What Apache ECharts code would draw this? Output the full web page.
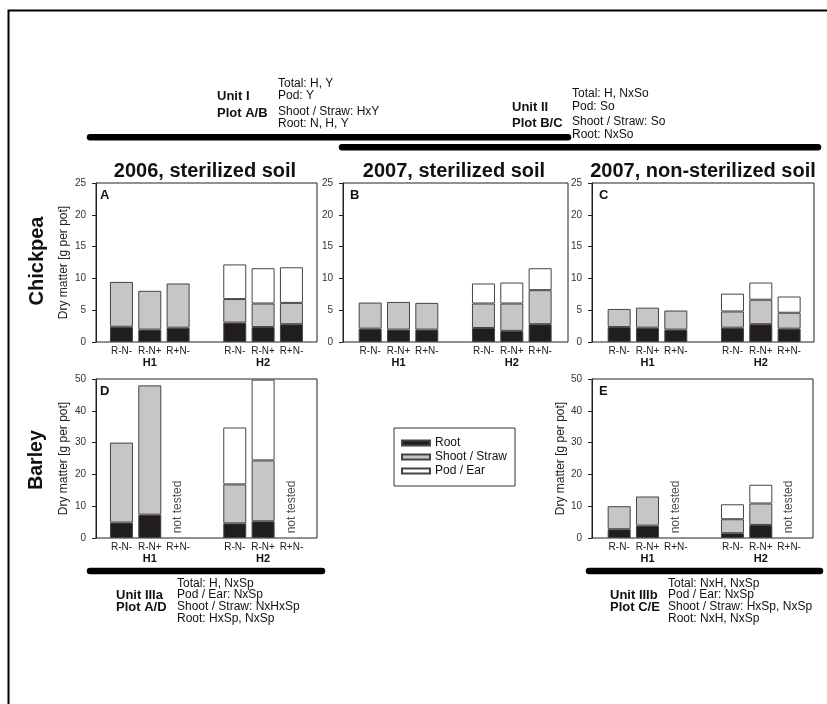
<!DOCTYPE html>
<html>
<head>
<meta charset="utf-8">
<script src="https://cdn.jsdelivr.net/npm/echarts@6/dist/echarts.min.js"></script>
<style>
html, body { margin: 0; padding: 0; background: #fff; }
#chart { width: 827px; height: 704px; }
</style>
</head>
<body>
<div id="chart"></div>
<script>
// x slots: three treatments for H1, an empty slot, three for H2
var treatments = ['R-N-', 'R-N+', 'R+N-', '', 'R-N-', 'R-N+', 'R+N-'];
var groups = ['', 'H1', '', '', '', 'H2', ''];
var seriesNames = ['Root', 'Shoot / Straw', 'Pod / Ear'];
var notTestedSlots = [2, 6];

// segment heights, g per pot (null = no segment / not tested / empty slot)
var rootA  = [2.4, 1.95, 2.25, null, 3.05, 2.35, 2.8];
var shootA = [7.05, 6.1, 6.95, null, 3.7, 3.7, 3.35];
var podA   = [null, null, null, null, 5.45, 5.55, 5.6];

var rootB  = [2.1, 1.95, 1.95, null, 2.2, 1.75, 2.8];
var shootB = [4.1, 4.35, 4.2, null, 3.85, 4.3, 5.35];
var podB   = [null, null, null, null, 3.15, 3.3, 3.45];

var rootC  = [2.35, 2.25, 1.95, null, 2.25, 2.8, 2.1];
var shootC = [2.85, 3.15, 3.0, null, 2.55, 3.85, 2.5];
var podC   = [null, null, null, null, 2.8, 2.7, 2.55];

var rootD  = [4.85, 7.35, null, null, 4.6, 5.25, null];
var shootD = [25.15, 40.65, null, null, 12.25, 19.15, null];
var podD   = [null, null, null, null, 17.9, 25.4, null];

var rootE  = [2.75, 3.9, null, null, 1.5, 4.1, null];
var shootE = [7.25, 9.15, null, null, 4.4, 6.75, null];
var podE   = [null, null, null, null, 4.7, 5.9, null];

var colTitles = ['2006, sterilized soil', '2007, sterilized soil', '2007, non-sterilized soil'];
var rowTitles = ['Chickpea', 'Barley'];
var yName = 'Dry matter [g per pot]';

var unit1 = ['Total: H, Y', 'Pod: Y', 'Shoot / Straw: HxY', 'Root: N, H, Y'];
var unit2 = ['Total: H, NxSo', 'Pod: So', 'Shoot / Straw: So', 'Root: NxSo'];
var unit3a = ['Total: H, NxSp', 'Pod / Ear: NxSp', 'Shoot / Straw: NxHxSp', 'Root: HxSp, NxSp'];
var unit3b = ['Total: NxH, NxSp', 'Pod / Ear: NxSp', 'Shoot / Straw: HxSp, NxSp', 'Root: NxH, NxSp'];

var FONT = 'Liberation Sans, Arial, sans-serif';
var colors = ['#211d1e', '#c6c6c6', '#ffffff'];
var slots = treatments.map(function (t, i) { return 's' + i; });

var panels = [
    { letter: 'A', left: 96,  top: 183, width: 221, inset: 11.3, max: 25, step: 5,  data: [rootA, shootA, podA], yname: 26.5 },
    { letter: 'B', left: 343, top: 183, width: 225, inset: 13,   max: 25, step: 5,  data: [rootB, shootB, podB], yname: 0 },
    { letter: 'C', left: 592, top: 183, width: 222, inset: 13,   max: 25, step: 5,  data: [rootC, shootC, podC], yname: 0 },
    { letter: 'D', left: 96,  top: 379, width: 221, inset: 11.3, max: 50, step: 10, data: [rootD, shootD, podD], yname: 26.5, nt: true },
    { letter: 'E', left: 592, top: 379, width: 221, inset: 13,   max: 50, step: 10, data: [rootE, shootE, podE], yname: 23, nt: true }
];

var grids = [], xAxes = [], yAxes = [], series = [], graphics = [];

panels.forEach(function (p, i) {
    var g = i * 2;
    // frame box
    grids.push({
        left: p.left, top: p.top, width: p.width, height: 159,
        show: true, borderColor: '#222', borderWidth: 1, outerBoundsMode: 'none'
    });
    xAxes.push({ type: 'value', gridIndex: g, show: false });
    yAxes.push({ type: 'value', gridIndex: g, show: false });
    // data area
    grids.push({
        left: p.left + p.inset, top: p.top, width: 198.3, height: 159,
        outerBoundsMode: 'none'
    });
    xAxes.push({
        type: 'category', gridIndex: g + 1, data: slots,
        axisTick: { show: false },
        axisLine: { show: false },
        axisLabel: {
            interval: 0,
            margin: 4,
            formatter: function (v, k) {
                if (!treatments[k]) return '';
                var s = '{a|' + treatments[k] + '}';
                if (groups[k]) s += '\n{b|' + groups[k] + '}';
                return s;
            },
            rich: {
                a: { fontSize: 10, lineHeight: 10, color: '#222', fontFamily: FONT },
                b: { fontSize: 11, lineHeight: 13, fontWeight: 'bold', color: '#111', fontFamily: FONT }
            }
        }
    });
    yAxes.push({
        type: 'value', gridIndex: g + 1, min: 0, max: p.max, interval: p.step,
        offset: p.inset,
        splitLine: { show: false },
        axisLine: { show: true, lineStyle: { color: '#222', width: 1 } },
        axisTick: { show: true, length: 4, lineStyle: { color: '#222' } },
        axisLabel: { fontSize: 10, color: '#333', margin: 10, fontFamily: FONT },
        name: p.yname ? yName : '',
        nameLocation: 'middle',
        nameGap: p.yname,
        nameTextStyle: { fontSize: 12, color: '#222', fontFamily: FONT }
    });
    p.data.forEach(function (vals, k) {
        series.push({
            name: seriesNames[k], type: 'bar', stack: 'panel' + i,
            xAxisIndex: g + 1, yAxisIndex: g + 1, barWidth: 23,
            itemStyle: { color: colors[k], borderColor: '#444', borderWidth: 1 },
            emphasis: { disabled: true },
            data: vals.map(function (v) { return v == null ? '-' : v; })
        });
    });
    if (p.nt) {
        series.push({
            type: 'scatter', xAxisIndex: g + 1, yAxisIndex: g + 1, symbolSize: 0, silent: true,
            label: {
                show: true, formatter: 'not tested', rotate: 90, position: 'inside',
                fontSize: 12, color: '#222', fontFamily: FONT
            },
            data: notTestedSlots.map(function (x) { return [x, p.max * 0.195]; })
        });
    }
    graphics.push(txt(p.left + (p.letter === 'A' || p.letter === 'D' ? 4 : 7), p.top + 12.5, p.letter, 13, 'bold', 'left'));
});

function txt(x, y, s, size, weight, align, rot) {
    return {
        type: 'text', x: x, y: y, rotation: rot || 0, silent: true,
        style: {
            text: s, fontSize: size, fontWeight: weight, fontFamily: FONT,
            fill: '#111', align: align, verticalAlign: 'middle'
        }
    };
}
function bar(x1, y, x2) {
    return {
        type: 'line', silent: true,
        shape: { x1: x1, y1: y, x2: x2, y2: y },
        style: { stroke: '#000', lineWidth: 6.5, lineCap: 'round' }
    };
}
function block(x, ys, lines) {
    lines.forEach(function (s, k) {
        graphics.push(txt(x, ys[k], s, 12, 'normal', 'left'));
    });
}

// column and row titles
graphics.push(txt(205, 171, colTitles[0], 20, 'bold', 'center'));
graphics.push(txt(454, 171, colTitles[1], 20, 'bold', 'center'));
graphics.push(txt(703, 171, colTitles[2], 20, 'bold', 'center'));
graphics.push(txt(37, 261, rowTitles[0], 20, 'bold', 'center', Math.PI / 2));
graphics.push(txt(37, 460, rowTitles[1], 19.5, 'bold', 'center', Math.PI / 2));

// experimental unit annotations
graphics.push(bar(90, 137.3, 568));
graphics.push(bar(342, 147.3, 818));
graphics.push(bar(90, 571, 322));
graphics.push(bar(589, 571, 820));

graphics.push(txt(217, 96.5, 'Unit I', 13, 'bold', 'left'));
graphics.push(txt(217, 113, 'Plot A/B', 13, 'bold', 'left'));
block(278, [83.5, 96, 111.5, 124], unit1);

graphics.push(txt(512, 107, 'Unit II', 13, 'bold', 'left'));
graphics.push(txt(512, 123, 'Plot B/C', 13, 'bold', 'left'));
block(572, [94, 106.5, 121.5, 134.5], unit2);

graphics.push(txt(116, 595, 'Unit IIIa', 13, 'bold', 'left'));
graphics.push(txt(116, 607, 'Plot A/D', 13, 'bold', 'left'));
block(177, [583.5, 595, 607, 618.5], unit3a);

graphics.push(txt(610, 595, 'Unit IIIb', 13, 'bold', 'left'));
graphics.push(txt(610, 607, 'Plot C/E', 13, 'bold', 'left'));
block(668, [583.5, 595, 607, 618.5], unit3b);

// outer frame of the figure
graphics.push({
    type: 'rect', silent: true,
    shape: { x: 8.5, y: 10.5, width: 900, height: 800 },
    style: { fill: 'none', stroke: '#000', lineWidth: 2 }
});

var chart = echarts.init(document.getElementById('chart'));
chart.setOption({
    animation: false,
    backgroundColor: '#fff',
    textStyle: { fontFamily: FONT },
    legend: {
        data: seriesNames,
        orient: 'vertical',
        left: 394, top: 428,
        icon: 'rect',
        itemWidth: 28, itemHeight: 5, itemGap: 0,
        padding: [8, 8, 8, 7],
        borderColor: '#333', borderWidth: 1,
        selectedMode: false,
        textStyle: { fontSize: 12, lineHeight: 14, color: '#111', fontFamily: FONT }
    },
    grid: grids,
    xAxis: xAxes,
    yAxis: yAxes,
    series: series,
    graphic: graphics
});
</script>
</body>
</html>
